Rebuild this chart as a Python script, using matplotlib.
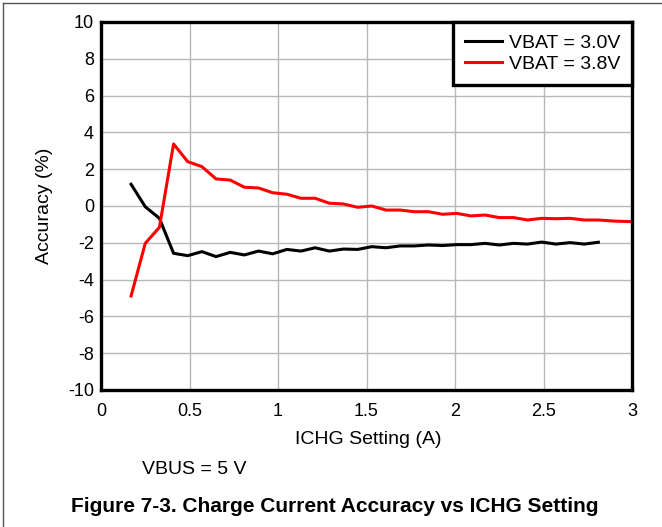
import matplotlib
matplotlib.use("Agg")
import matplotlib.pyplot as plt
from matplotlib.lines import Line2D

plt.rcParams["font.family"] = ["Liberation Sans", "DejaVu Sans"]
plt.rcParams["axes.unicode_minus"] = False

# --- data ---
ichg_3v0 = [0.17, 0.25, 0.33, 0.41, 0.49, 0.57, 0.65, 0.73, 0.81, 0.89,
            0.97, 1.05, 1.13, 1.21, 1.29, 1.37, 1.45, 1.53, 1.61, 1.69,
            1.77, 1.85, 1.93, 2.01, 2.09, 2.17, 2.25, 2.33, 2.41, 2.49,
            2.57, 2.65, 2.73, 2.81]
acc_3v0 = [1.18, -0.04, -0.67, -2.57, -2.70, -2.48, -2.75, -2.52, -2.66, -2.45,
           -2.60, -2.36, -2.45, -2.27, -2.45, -2.34, -2.36, -2.21, -2.27, -2.17,
           -2.17, -2.12, -2.15, -2.10, -2.10, -2.03, -2.12, -2.03, -2.07, -1.96,
           -2.07, -1.99, -2.07, -1.97]

ichg_3v8 = ichg_3v0 + [2.90, 3.00]
acc_3v8 = [-4.89, -2.03, -1.16, 3.37, 2.41, 2.14, 1.47, 1.41, 1.02, 0.98,
           0.72, 0.64, 0.42, 0.42, 0.15, 0.11, -0.07, 0.00, -0.22, -0.22,
           -0.31, -0.31, -0.45, -0.40, -0.54, -0.49, -0.63, -0.63, -0.76, -0.67,
           -0.69, -0.67, -0.76, -0.76, -0.82, -0.85]

x_ticks = [0, 0.5, 1, 1.5, 2, 2.5, 3]
x_tick_labels = ["0", "0.5", "1", "1.5", "2", "2.5", "3"]
y_ticks = list(range(-10, 11, 2))

# --- figure ---
fig = plt.figure(figsize=(6.62, 5.27), dpi=100)
ax = fig.add_axes([101 / 662, 1 - 390 / 527, 531 / 662, 368 / 527])

ax.plot(ichg_3v0, acc_3v0, color="black", lw=2.2, label="VBAT = 3.0V")
ax.plot(ichg_3v8, acc_3v8, color="#ff0000", lw=2.2, label="VBAT = 3.8V")

ax.set_xlim(0, 3)
ax.set_ylim(-10, 10)
ax.set_xticks(x_ticks)
ax.set_xticklabels(x_tick_labels)
ax.set_yticks(y_ticks)
ax.grid(True, color="#b8b8b8", lw=1)
ax.tick_params(length=0, labelsize=13)
ax.tick_params(axis="x", pad=9)
ax.tick_params(axis="y", pad=5)
for s in ax.spines.values():
    s.set_linewidth(2.4)
    s.set_color("black")

ax.set_xlabel("ICHG Setting (A)", fontsize=14)
ax.set_ylabel("Accuracy (%)", fontsize=14)
ax.xaxis.set_label_coords(0.503, -0.112)
ax.yaxis.set_label_coords(-0.090, 0.5)

leg = ax.legend(loc="upper right", fontsize=14, frameon=True, fancybox=False,
                framealpha=1, borderaxespad=0, handlelength=1.9,
                handletextpad=0.36, borderpad=0.62, labelspacing=0.2)
leg.get_frame().set_edgecolor("black")
leg.get_frame().set_linewidth(2.4)

fig.text(142 / 662, 1 - 469 / 527, "VBUS = 5 V", fontsize=14, va="center")
fig.text(335 / 662, 1 - 507 / 527,
         "Figure 7-3. Charge Current Accuracy vs ICHG Setting",
         fontsize=15, fontweight="bold", ha="center", va="center")

# page border (top and left edges visible)
fig.add_artist(Line2D([3 / 662, 1], [1 - 3 / 527, 1 - 3 / 527],
                      transform=fig.transFigure, color="#555555", lw=1))
fig.add_artist(Line2D([3 / 662, 3 / 662], [0, 1 - 3 / 527],
                      transform=fig.transFigure, color="#555555", lw=1))

fig.savefig("out.png", dpi=100)
